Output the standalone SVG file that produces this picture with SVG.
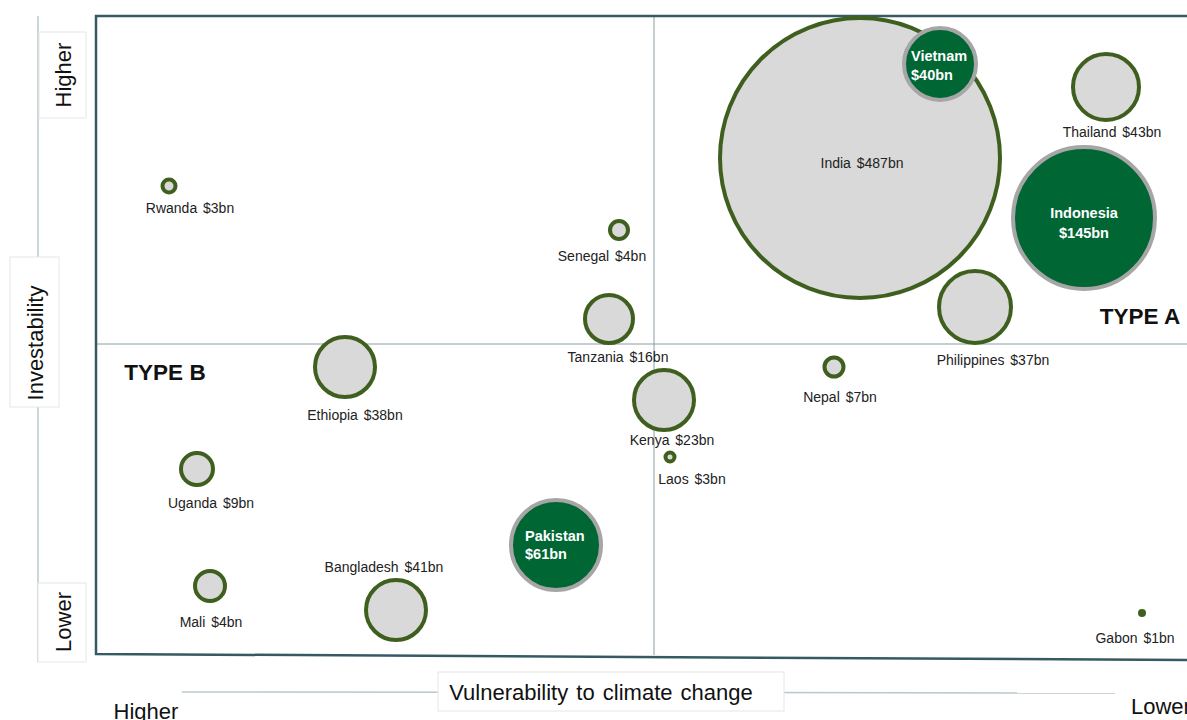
<svg xmlns="http://www.w3.org/2000/svg" width="1187" height="720" viewBox="0 0 1187 720">
<style>
.b{fill:#d9d9d9;stroke:#3f5f1f;stroke-width:4}
.g{fill:#006633;stroke:#a6a6a6;stroke-width:4}
.l{font-family:"Liberation Sans",Arial,sans-serif;font-size:14px;word-spacing:2px;fill:#222;text-anchor:middle}
.w{font-family:"Liberation Sans",Arial,sans-serif;font-size:14.5px;font-weight:bold;fill:#fff}
.ax{font-family:"Liberation Sans",Arial,sans-serif;font-size:22px;fill:#111}
.t{font-family:"Liberation Sans",Arial,sans-serif;font-size:22.5px;font-weight:bold;fill:#111;text-anchor:middle}
.box{fill:#fff;stroke:#e4e8e8;stroke-width:1}
</style>
<rect width="1187" height="720" fill="#fff"/>
<g id="axes">
<line x1="38" y1="16" x2="38" y2="662" stroke="#b8c8cc" stroke-width="1.5"/>
<line x1="182" y1="692" x2="1115" y2="693" stroke="#b8c8cc" stroke-width="1.5"/>
<line x1="654" y1="16" x2="654" y2="655" stroke="#8a9ea5" stroke-width="1"/>
<line x1="96" y1="344" x2="1187" y2="344" stroke="#8a9ea5" stroke-width="1"/>
<path d="M1187 16 H96 V654 L1187 660" fill="none" stroke="#355a63" stroke-width="2.5"/>
<rect class="box" x="39" y="32" width="47" height="86"/>
<text class="ax" transform="translate(71,75) rotate(-90)" text-anchor="middle">Higher</text>
<rect class="box" x="10" y="257" width="49" height="150"/>
<text class="ax" transform="translate(43,343) rotate(-90)" text-anchor="middle">Investability</text>
<rect class="box" x="38" y="583" width="48" height="79"/>
<text class="ax" transform="translate(71,622) rotate(-90)" text-anchor="middle">Lower</text>
<rect class="box" x="438" y="672" width="346" height="39"/>
<text class="ax" x="601" y="700" text-anchor="middle" word-spacing="2">Vulnerability to climate change</text>
<text class="ax" x="146" y="719" text-anchor="middle">Higher</text>
<text class="ax" x="1131" y="714">Lower</text>
<text class="t" x="165" y="380">TYPE B</text>
<text class="t" x="1140" y="324">TYPE A</text>
</g>
<g id="india"><circle class="b" cx="860" cy="158" r="140"/><text class="l" x="862" y="168">India $487bn</text></g>
<g id="vietnam"><circle class="g" cx="940" cy="64" r="36"/><text class="w" x="911" y="61">Vietnam</text><text class="w" x="911" y="80">$40bn</text></g>
<g id="thailand"><circle class="b" cx="1106" cy="87" r="33"/><text class="l" x="1112" y="137">Thailand $43bn</text></g>
<g id="indonesia"><circle class="g" cx="1084" cy="218" r="71"/><text class="w" x="1084" y="218" text-anchor="middle">Indonesia</text><text class="w" x="1084" y="238" text-anchor="middle">$145bn</text></g>
<g id="philippines"><circle class="b" cx="975" cy="307" r="36"/><text class="l" x="993" y="365">Philippines  $37bn</text></g>
<g id="rwanda"><circle class="b" cx="169" cy="186" r="6.5" stroke-width="3"/><text class="l" x="190" y="213">Rwanda  $3bn</text></g>
<g id="senegal"><circle class="b" cx="619" cy="230" r="9" stroke-width="3"/><text class="l" x="602" y="261">Senegal $4bn</text></g>
<g id="tanzania"><circle class="b" cx="609" cy="319" r="24"/><text class="l" x="618" y="362">Tanzania $16bn</text></g>
<g id="ethiopia"><circle class="b" cx="345" cy="367" r="30"/><text class="l" x="355" y="420">Ethiopia $38bn</text></g>
<g id="kenya"><circle class="b" cx="664" cy="400" r="30"/><text class="l" x="672" y="445">Kenya $23bn</text></g>
<g id="laos"><circle class="b" cx="670" cy="457" r="4.5" stroke-width="2.5"/><text class="l" x="692" y="484">Laos $3bn</text></g>
<g id="nepal"><circle class="b" cx="834" cy="367" r="9.5" stroke-width="3"/><text class="l" x="840" y="402">Nepal $7bn</text></g>
<g id="uganda"><circle class="b" cx="197" cy="469" r="16"/><text class="l" x="211" y="508">Uganda $9bn</text></g>
<g id="pakistan"><circle class="g" cx="556" cy="545" r="45"/><text class="w" x="525" y="541">Pakistan</text><text class="w" x="525" y="559">$61bn</text></g>
<g id="mali"><circle class="b" cx="210" cy="586" r="15"/><text class="l" x="211" y="627">Mali $4bn</text></g>
<g id="bangladesh"><circle class="b" cx="396" cy="610" r="30"/><text class="l" x="384" y="572">Bangladesh  $41bn</text></g>
<g id="gabon"><circle cx="1142" cy="613" r="4" fill="#3f5f1f"/><text class="l" x="1135" y="643">Gabon $1bn</text></g>
</svg>
